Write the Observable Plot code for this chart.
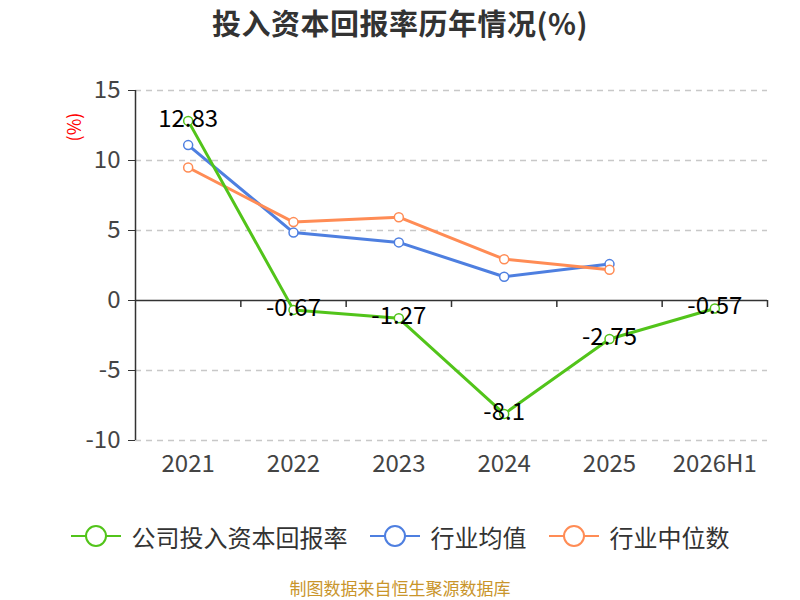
<!DOCTYPE html>
<html><head><meta charset="utf-8">
<script src="https://cdn.jsdelivr.net/npm/d3@7"></script>
<script src="https://cdn.jsdelivr.net/npm/@observablehq/plot@0.6"></script>
<style>
body{margin:0;background:#fff;font-family:"Noto Sans CJK SC","Noto Sans",sans-serif;}
#wrap{position:relative;width:800px;height:600px;overflow:hidden;background:#fff;}
#chart{position:absolute;left:0;top:0;}
#title{position:absolute;top:0;left:0;width:800px;text-align:center;font-size:29px;font-weight:bold;color:#333;line-height:44px;letter-spacing:0.5px;}
#unit{position:absolute;left:57px;top:116px;width:32px;height:22px;line-height:22px;text-align:center;font-size:18px;color:#ff0000;transform:rotate(-90deg);}
#legend{position:absolute;top:519px;left:0;width:800px;height:34px;display:flex;justify-content:center;align-items:center;gap:22px;}
.item{display:flex;align-items:center;gap:11px;font-size:24px;color:#333;}
#source{position:absolute;top:577px;left:0;width:800px;height:22px;text-align:center;font-size:17px;color:#c9952b;line-height:22px;}
</style>
</head><body>
<div id="wrap">
  <div id="chart"></div>
  <div id="title">投入资本回报率历年情况(%)</div>
  <div id="unit">(%)</div>
  <div id="legend"></div>
  <div id="source">制图数据来自恒生聚源数据库</div>
</div>
<script>
const categories = ["2021", "2022", "2023", "2024", "2025", "2026H1"];
const companyROIC = [12.83, -0.67, -1.27, -8.1, -2.75, -0.57];
const industryAvg = [11.1, 4.85, 4.15, 1.7, 2.6, null];
const industryMedian = [9.5, 5.6, 5.95, 2.95, 2.2, null];
const yTicks = [-10, -5, 0, 5, 10, 15];

const seriesNames = ["公司投入资本回报率", "行业均值", "行业中位数"];
const seriesColors = ["#52c41a", "#4e7fe0", "#ff8c55"];

function rows(values) {
  return values.map((v, i) => ({i, cat: categories[i], v})).filter(d => d.v != null);
}
const comp = rows(companyROIC), avg = rows(industryAvg), med = rows(industryMedian);
const xPos = d => d.i + 0.5;

const plot = Plot.plot({
  width: 800,
  height: 600,
  marginTop: 90,
  marginRight: 33,
  marginBottom: 160,
  marginLeft: 135,
  style: {fontFamily: '"Noto Sans CJK SC","Noto Sans",sans-serif', color: "#333", background: "transparent"},
  x: {type: "linear", domain: [0, categories.length]},
  y: {domain: [-10, 15]},
  marks: [
    Plot.gridY(yTicks.filter(t => t !== 0), {stroke: "#c8c8c8", strokeOpacity: 1, strokeWidth: 1.5, strokeDasharray: "6,5"}),
    Plot.ruleY([0], {stroke: "#333", strokeWidth: 1.5}),
    Plot.ruleX([0], {y1: -10, y2: 15, stroke: "#333", strokeWidth: 1.5}),
    Plot.ruleX(d3.range(1, categories.length + 1), {y1: 0, y2: 0, insetBottom: -7, stroke: "#333", strokeWidth: 1.5}),
    Plot.axisY({ticks: yTicks, tickFormat: d => String(d), tickSize: 7, tickPadding: 8, fontSize: 24, stroke: "#333", fill: "#444", label: null}),
    Plot.axisX({ticks: categories.map((c, i) => i + 0.5), tickFormat: d => categories[Math.floor(d)], tickSize: 0, tickPadding: 14, fontSize: 24, fill: "#444", label: null}),
    Plot.line(avg, {x: xPos, y: "v", stroke: seriesColors[1], strokeWidth: 3}),
    Plot.dot(avg, {x: xPos, y: "v", r: 4.5, fill: "#fff", stroke: seriesColors[1], strokeWidth: 1.5}),
    Plot.line(med, {x: xPos, y: "v", stroke: seriesColors[2], strokeWidth: 3}),
    Plot.dot(med, {x: xPos, y: "v", r: 4.5, fill: "#fff", stroke: seriesColors[2], strokeWidth: 1.5}),
    Plot.line(comp, {x: xPos, y: "v", stroke: seriesColors[0], strokeWidth: 3}),
    Plot.dot(comp, {x: xPos, y: "v", r: 4.5, fill: "#fff", stroke: seriesColors[0], strokeWidth: 1.5}),
    Plot.text(comp, {x: xPos, y: "v", text: d => String(d.v), fontSize: 24, fill: "#000", dy: -2})
  ]
});
document.getElementById("chart").appendChild(plot);

const legend = document.getElementById("legend");
seriesNames.forEach((name, k) => {
  const item = document.createElement("div");
  item.className = "item";
  item.innerHTML = `<svg width="50" height="24" viewBox="0 0 50 24"><line x1="0" y1="12" x2="50" y2="12" stroke="${seriesColors[k]}" stroke-width="2"/><circle cx="25" cy="12" r="10" fill="#fff" stroke="${seriesColors[k]}" stroke-width="2"/></svg><span>${name}</span>`;
  legend.appendChild(item);
});
</script>
</body></html>
